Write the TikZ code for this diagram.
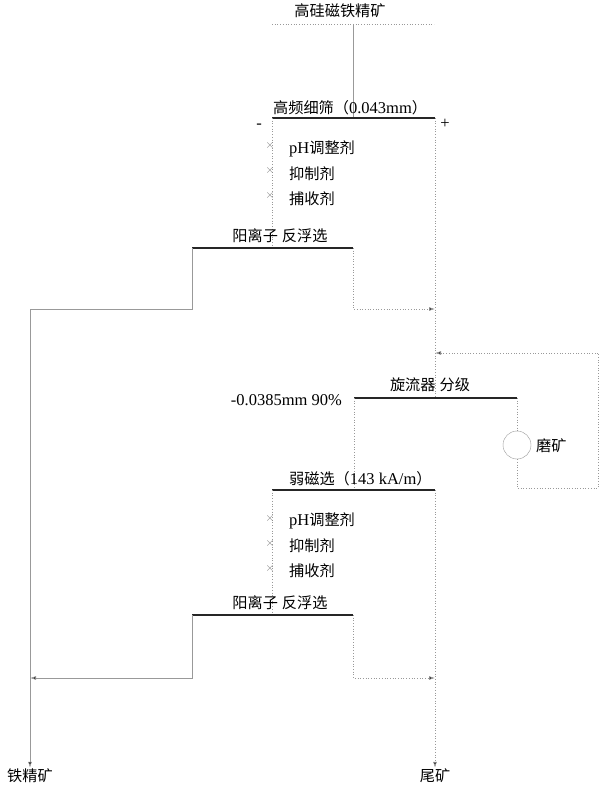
\documentclass[tikz,border=0pt]{standalone}
\usepackage{fontspec}
\setmainfont{Liberation Serif}
\newfontfamily\cjk{Noto Sans CJK SC}[Scale=0.92]
\usetikzlibrary{arrows.meta}
\begin{document}
\begin{tikzpicture}[x=1pt,y=-1pt,
  flow/.style={draw=gray!80,line width=0.7pt},
  bar/.style={draw=black!85,line width=2.4pt},
  arr/.style={flow,-{Latex[length=6pt,width=4pt,fill=black]}},
  lab/.style={font=\fontsize{16.5}{18}\selectfont,inner sep=1pt},
  xm/.style={font=\fontsize{12}{12}\selectfont,text=gray,inner sep=0pt}]
\useasboundingbox (0,0) rectangle (600,791);
% feed
\node[lab] (feed) at (340,11) {\cjk 高硅磁铁精矿};
\draw[flow,dotted] (272,24) -- (434,24);
\coordinate (f0) at (353,24);
\coordinate (s1) at (353,118);
\draw[flow] (f0) -- (s1);
% screen
\draw[bar] (272,118) coordinate (sL) -- (435,118) coordinate (sR);
\node[lab,anchor=south west] (screen) at (272,116) {\cjk 高频细筛（\rmfamily 0.043mm\cjk ）};
\node[lab] (minus) at (259,126) {-};
\node[lab] (plus) at (445,124) {+};
% reagents 1
\coordinate (fl1) at (272,248);
\draw[flow,dotted] (sL) -- (fl1);
\foreach \y/\t [count=\i] in {149/{pH\cjk 调整剂},174/{\cjk 抑制剂},199/{\cjk 捕收剂}}{
  \node[xm] (xa\i) at (270,\y-3) {$\times$};
  \node[lab,anchor=west] (ra\i) at (288,\y) {\t};
}
% flotation 1
\draw[bar] (192,248) coordinate (aL) -- (353,248) coordinate (aR);
\node[lab,anchor=south] (flot1) at (280,244) {\cjk 阳离子\hspace{4pt}反浮选};
\coordinate (aLd) at (192,309); \coordinate (conc1) at (30,309);
\coordinate (aRd) at (353,309); \coordinate (t1) at (435,309);
\draw[flow] (aL) -- (aLd) -- (conc1);
\draw[arr,dotted] (aR) -- (aRd) -- (t1);
% cyclone feed
\coordinate (cyR0) at (435,398);
\draw[flow,dotted] (sR) -- (cyR0);
% cyclone
\draw[bar] (354,398) coordinate (cL) -- (517,398) coordinate (cR);
\node[lab,anchor=south] (cyc) at (430,393) {\cjk 旋流器\hspace{4pt}分级};
\node[lab,anchor=east] (size) at (343,400) {-0.0385mm 90\%};
% grinding loop
\node[draw=gray!80,circle,minimum size=28pt,inner sep=0pt] (mill) at (517,445) {};
\node[lab,anchor=west] (millt) at (535,446) {\cjk 磨矿};
\coordinate (g1) at (517,488); \coordinate (g2) at (598,488);
\coordinate (g3) at (598,353); \coordinate (g4) at (435,353);
\draw[flow,dotted] (cR) -- (mill.north);
\draw[flow,dotted] (mill.south) -- (g1) -- (g2) -- (g3);
\draw[arr,dotted] (g3) -- (g4);
% to magnetic
\coordinate (mtop) at (354,490);
\draw[flow,dotted] (cL) -- (mtop);
\draw[bar] (272,490) coordinate (mL) -- (435,490) coordinate (mR);
\node[lab,anchor=south west] (mag) at (288,487) {\cjk 弱磁选（\rmfamily 143 kA/m\cjk ）};
% reagents 2
\coordinate (fl2) at (272,615);
\draw[flow,dotted] (mL) -- (fl2);
\foreach \y/\t [count=\i] in {521/{pH\cjk 调整剂},546/{\cjk 抑制剂},571/{\cjk 捕收剂}}{
  \node[xm] (xb\i) at (270,\y-3) {$\times$};
  \node[lab,anchor=west] (rb\i) at (288,\y) {\t};
}
% flotation 2
\draw[bar] (192,615) coordinate (bL) -- (353,615) coordinate (bR);
\node[lab,anchor=south] (flot2) at (280,611) {\cjk 阳离子\hspace{4pt}反浮选};
\coordinate (bLd) at (192,678); \coordinate (c2) at (30,678);
\coordinate (bRd) at (353,678); \coordinate (t2) at (435,678);
\draw[arr] (bL) -- (bLd) -- (c2);
\draw[arr,dotted] (bR) -- (bRd) -- (t2);
% products
\node[lab] (conc) at (30,776) {\cjk 铁精矿};
\node[lab] (tail) at (435,776) {\cjk 尾矿};
\draw[arr] (conc1) -- (conc.north);
\draw[arr,dotted] (mR) -- (tail.north);
\end{tikzpicture}
\end{document}
